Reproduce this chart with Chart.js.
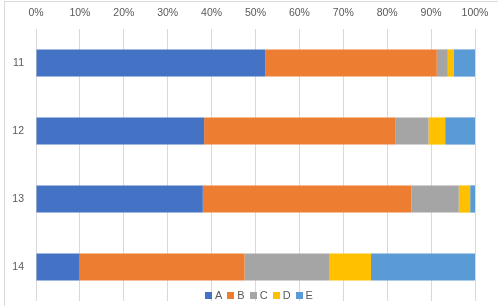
<!DOCTYPE html>
<html>
<head>
<meta charset="utf-8">
<script src="https://cdn.jsdelivr.net/npm/chart.js@4"></script>
<style>
  html, body { margin: 0; padding: 0; background: #fff; overflow: hidden; }
  #wrap { position: relative; width: 498px; height: 306px; }
  canvas { display: block; }
  #frame { position: absolute; left: 4px; top: 1px; width: 600px; height: 400px; border-left: 1px solid #d9d9d9; border-top: 1px solid #d9d9d9; pointer-events: none; }
  #legend { position: absolute; left: 205px; top: 288px; height: 14px; display: flex; align-items: center;
    font-family: "Liberation Sans", Arial, sans-serif; font-size: 11px; color: #595959; }
  #legend span.item { display: inline-flex; align-items: center; margin-right: 5px; }
  #legend span.box { display: inline-block; width: 7px; height: 7px; margin-right: 3px; }
</style>
</head>
<body>
<div id="wrap"><canvas id="c" width="498" height="306"></canvas><div id="frame"></div><div id="legend"></div></div>
<script>
const categories = ["11", "12", "13", "14"];
const seriesNames = ["A", "B", "C", "D", "E"];
const valuesA = [52.2, 38.3, 38.0, 9.9];
const valuesB = [39.1, 43.5, 47.5, 37.6];
const valuesC = [2.5, 7.6, 10.8, 19.4];
const valuesD = [1.3, 3.8, 2.6, 9.4];
const valuesE = [4.9, 6.8, 1.1, 23.7];
const colors = ["#4472C4", "#ED7D31", "#A5A5A5", "#FFC000", "#5B9BD5"];
const tickValues = [0, 10, 20, 30, 40, 50, 60, 70, 80, 90, 100];

const allValues = [valuesA, valuesB, valuesC, valuesD, valuesE];
const datasets = seriesNames.map((n, i) => ({
  label: n,
  data: allValues[i],
  backgroundColor: colors[i],
  borderWidth: 0,
  categoryPercentage: 1.0,
  barPercentage: 0.4
}));

const font = { family: "'Liberation Sans', Arial, sans-serif", size: 10.5 };

new Chart(document.getElementById('c'), {
  type: 'bar',
  data: { labels: categories, datasets },
  options: {
    indexAxis: 'y',
    responsive: false,
    animation: false,
    layout: { padding: { left: 0, right: 23, top: 0, bottom: 5 } },
    plugins: { legend: { display: false }, tooltip: { enabled: false } },
    scales: {
      x: {
        position: 'top',
        stacked: true,
        min: 0, max: 100,
        afterBuildTicks: s => { s.ticks = tickValues.map(v => ({ value: v })); },
        afterFit: s => { s.height = 29; s.paddingLeft = 0; s.paddingRight = 0; },
        ticks: { color: '#595959', font, padding: 10, callback: v => v + '%' },
        grid: { color: '#d9d9d9', drawTicks: false },
        border: { display: false }
      },
      y: {
        stacked: true,
        afterFit: s => { s.width = 36; s.paddingTop = 0; s.paddingBottom = 0; },
        ticks: { color: '#595959', font, padding: 4 },
        grid: { display: false },
        border: { display: false }
      }
    }
  }
});

const lg = document.getElementById('legend');
seriesNames.forEach((n, i) => {
  const it = document.createElement('span');
  it.className = 'item';
  const b = document.createElement('span');
  b.className = 'box';
  b.style.background = colors[i];
  it.appendChild(b);
  it.appendChild(document.createTextNode(n));
  lg.appendChild(it);
});
</script>
</body>
</html>
